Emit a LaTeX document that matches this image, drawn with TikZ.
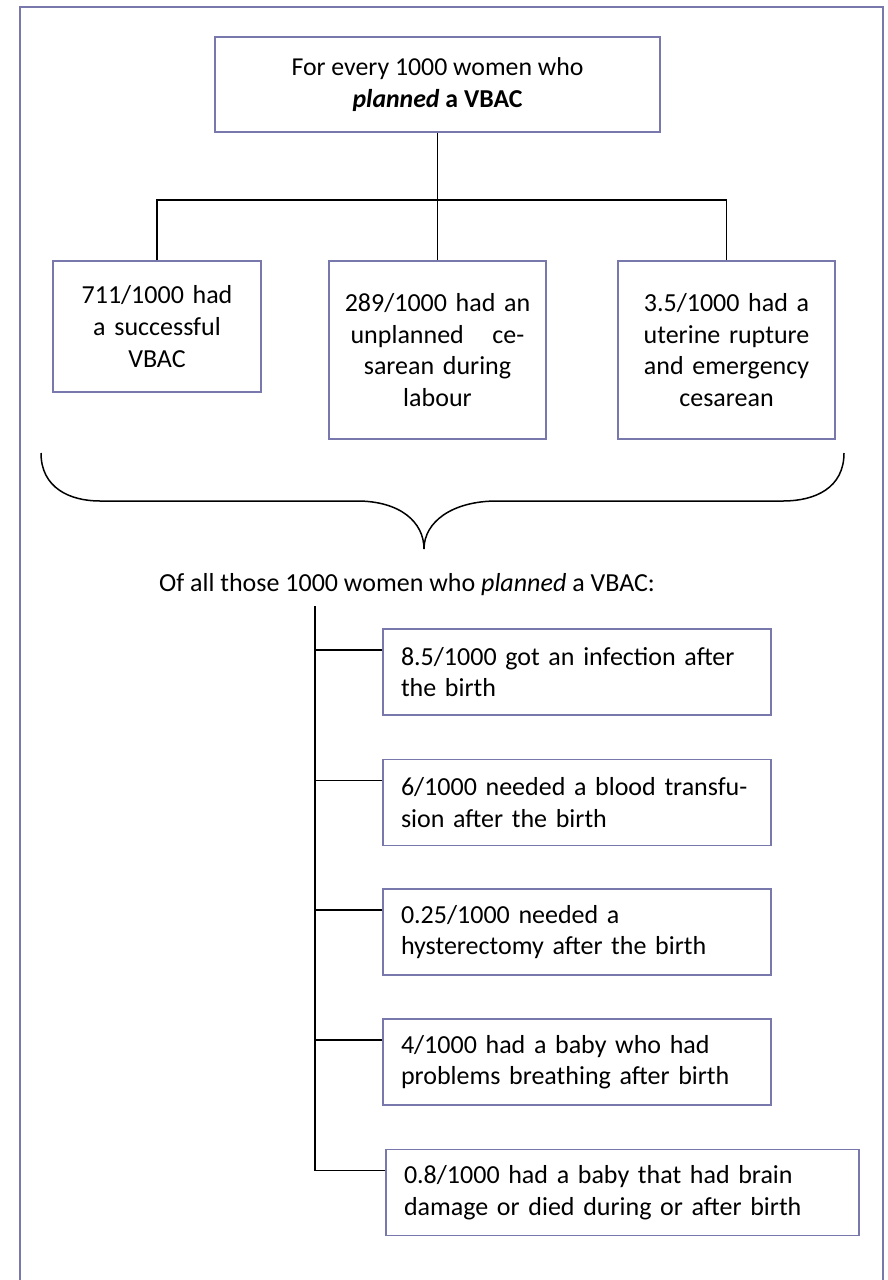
\documentclass[tikz,border=0pt]{standalone}
\usepackage{fontspec}
\setmainfont{Carlito}
\usepackage{tikz}
\definecolor{boxline}{RGB}{120,120,172}
\newcommand{\txtsize}{\fontsize{13}{15.8}\selectfont}

\tikzset{
  frame/.style={draw=boxline, line width=1.2pt},
  link/.style={draw=black, line width=0.75pt},
  topbox/.style={draw=boxline, line width=0.8pt, align=center,
    font=\fontsize{12.9}{16}\selectfont, minimum width=222.5pt, minimum height=47.5pt},
  midbox/.style={draw=boxline, line width=0.8pt, align=center, font=\txtsize,
    inner xsep=5pt},
  riskbox/.style={draw=boxline, line width=0.8pt, align=left, font=\txtsize,
    inner xsep=9pt, minimum height=43pt}
}

\begin{document}
\begin{tikzpicture}[x=0.5pt,y=-0.5pt]
\useasboundingbox (0,0) rectangle (888,1280);
%\draw [help lines,step=50] (0,0) grid (888,1280);
\draw [frame] (20,1280) -- (20,7) -- (883,7) -- (883,1280);

% top of the tree
\node [topbox] (top) at (437.5,84.5) {For every 1000 women who\\ \textbf{\textit{planned} a VBAC}};
\node [midbox,text width=94pt,minimum height=65.5pt] (b1) at (157,326.5) {711/1000 had\\ a successful\\ VBAC};
\node [midbox,text width=98.5pt,minimum height=89pt] (b2) at (437.5,350) {289/1000 had an\\ unplanned\hspace{1.1em}ce-\\ sarean during\\ labour};
\node [midbox,text width=98.5pt,minimum height=89pt] (b3) at (726.5,350) {3.5/1000 had a\\ uterine rupture\\ and emergency\\ cesarean};
\coordinate (split) at (437.5,200);
\draw [link] (top) -- (split);
\draw [link] (b1) |- (split) -| (b3);
\draw [link] (split) -- (b2);

% the brace
\draw [line width=0.75pt] (41,453) .. controls (41,488) and (70,501) .. (100,501) -- (357,501)
  .. controls (400,501) and (424,522) .. (424,549)
  .. controls (424,522) and (452,501) .. (497,501) -- (783,501)
  .. controls (815,501) and (844,488) .. (844,453);

\node [font=\txtsize] (summary) at (407,585) {Of all those 1000 women who \textit{planned} a VBAC:};

% outcomes list
\node [riskbox,text width=176pt] (l1) at (577,672) {8.5/1000 got an infection after\\ the birth};
\node [riskbox,text width=176pt] (l2) at (577,802.5) {6/1000 needed a blood transfu-\\ sion after the birth};
\node [riskbox,text width=176pt] (l3) at (577,932) {0.25/1000 needed a\\ hysterectomy after the birth};
\node [riskbox,text width=176pt] (l4) at (577,1062) {4/1000 had a baby who had\\ problems breathing after birth};
\node [riskbox,text width=218.5pt] (l5) at (622.5,1192.5) {0.8/1000 had a baby that had brain\\ damage or died during or after birth};
\coordinate (trunk) at (315,606);
\draw [link] (trunk) |- ([yshift=-11pt]l5.north west);
\foreach \b in {l1,l2,l3,l4}
  \draw [link] ([yshift=-11pt]\b.north west) -- ++(-68,0);
\end{tikzpicture}
\end{document}
